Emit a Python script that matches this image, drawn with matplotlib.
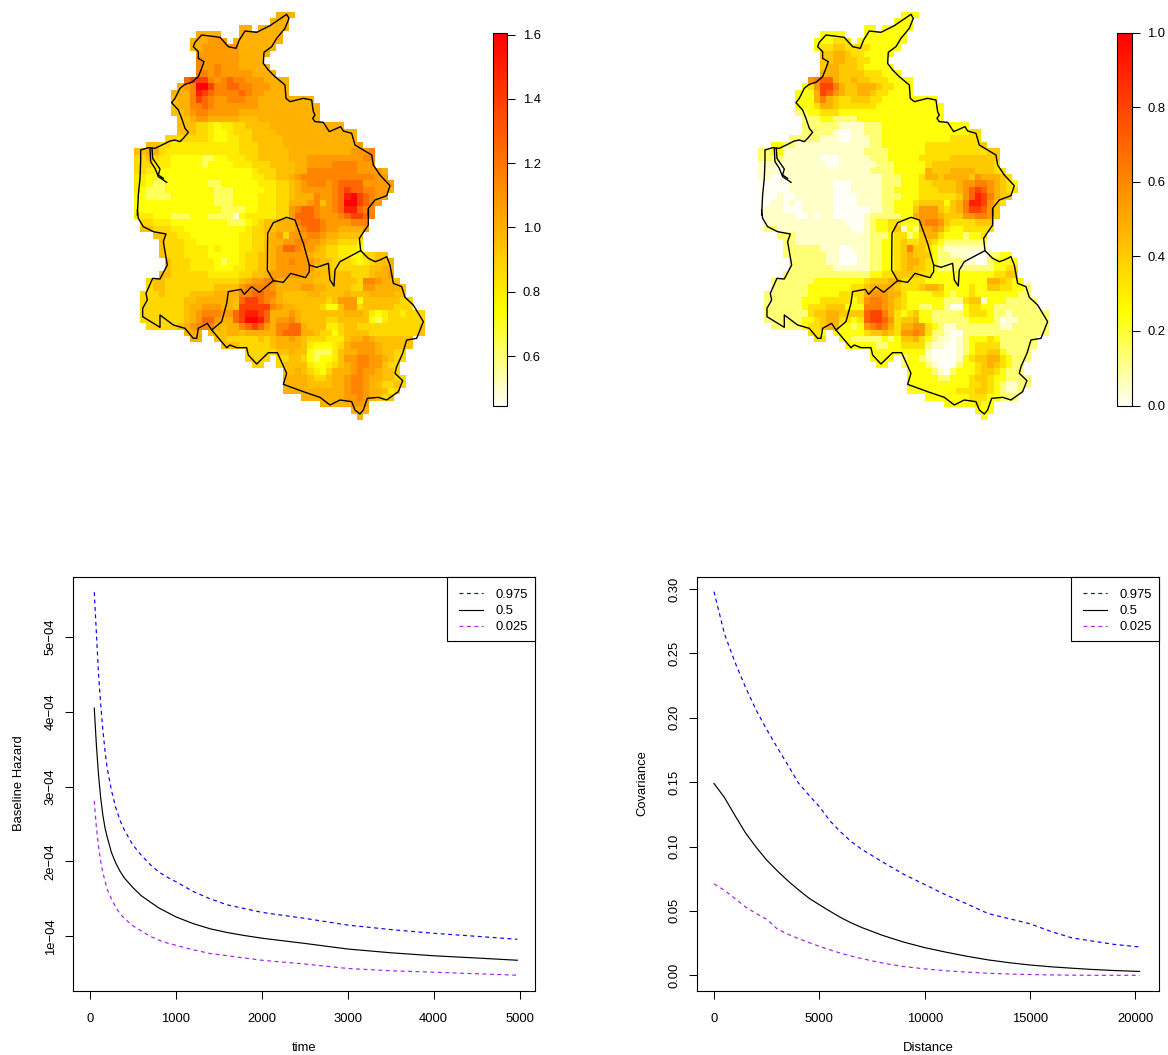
#!/usr/bin/env python3
# -*- coding: utf-8 -*-
import numpy as np
import matplotlib
matplotlib.use('Agg')
import matplotlib.pyplot as plt
from matplotlib.colors import LinearSegmentedColormap
from matplotlib.patches import Rectangle

plt.rcParams['font.family'] = ['Liberation Sans', 'DejaVu Sans']
plt.rcParams['font.size'] = 9.4

W, H = 1168, 1055

# grid rows as "first column:codes", blank = no cell
n_rows, n_cols = 63, 47
levels_a = [0.50, 0.63, 0.73, 0.80, 0.87, 0.95, 1.00, 1.08, 1.15, 1.25, 1.38, 1.50, 1.60]
levels_b = [0.00, 0.05, 0.13, 0.24, 0.34, 0.41, 0.48, 0.553, 0.625, 0.707, 0.80, 0.906, 1.00]

rows_a = [
 "23:666", "22:666", "17:66 66666", "10:6666   6666666", "9:666777 66666666",
 "9:66777777666666", "10:777777766666", "10:87777776666", "10:877877766666",
 "10:8878777776666", "8:9aaa8789887776666", "7:678cca889988777666",
 "6:6668ba9888898776666", "6:5668a987788877666666666", "6:566889877777776666666666",
 "6:556788777776666666666666", "7:55677666665556666666666",
 "7:555443233445555666666666666", "7:55544322344455556666666666666",
 "5:4444444322334455555666666666666", "2:55443333333333344455556666666666667",
 "0:556643333333333334445555566666666667778",
 "0:445433222221122333445555566677777777788",
 "0:444333222221222233344455556677778888777",
 "0:44332222222222222223444555668888888877776",
 "0:33222222222222222223344556788888888888877",
 "0:332112222222112222223334456788878999977777",
 "0:321112222222211122222334456777778" + "9a998" + "8776",
 "0:22111122222221112222333445666877" + "89bca9" + "877",
 "0:22222222222221112222333446667" + "8578" + "9cca9" + "87",
 "0:22222222222222111122333447899" + "8778" + "9bb98" + "8",
 "0:333222111222" + "11110233" + "33344" + "7999" + "8777" + "89aa9" + "8",
 "1:4433" + "3222222222" + "1112" + "3455" + "666" + "8999" + "87777" + "888",
 "1:5544" + "4332222222" + "2223" + "4455" + "666" + "7899" + "87766" + "667",
 "3:554" + "4332222" + "2222" + "3344" + "56" + "747" + "7788" + "7665" + "555",
 "4:54" + "4433222" + "2222" + "3344" + "56" + "677" + "8877" + "6554" + "443",
 "4:54" + "4433332" + "3222" + "3344" + "56" + "799" + "8776" + "5443" + "332",
 "4:54" + "4433332" + "2222" + "3445" + "56" + "777" + "7765" + "5443" + "322" + "4455",
 "5:5" + "4443333" + "2122" + "3445" + "56" + "778" + "7776" + "5544" + "432" + "34556",
 "5:5" + "4443333" + "2223" + "3445" + "56" + "777" + "7775" + "5544" + "444" + "45566",
 "4:55" + "4444443" + "3333" + "4455" + "67" + "777" + "7766" + "5555" + "544" + "45667",
 "2:455" + "4" + "4444444" + "4444" + "5677" + "88" + "666" + "6665" + "5555" + "554" + "887665",
 "2:455" + "4" + "4444444" + "5555" + "7888" + "87" + "666" + "6776" + "6555" + "544" + "7766665",
 "1:4445" + "4" + "4445555" + "6666" + "8899" + "88" + "655" + "5566" + "5555" + "655" + "5666655",
 "1:4444" + "4" + "4455666" + "6665" + "9aa9" + "87" + "655" + "5555" + "5457" + "772" + "55555544",
 "1:4444" + "4" + "4456677" + "7665" + "aaaa" + "a8" + "766" + "5555" + "4225" + "774" + "55555444",
 "1:4444" + "4" + "4456788" + "8779" + "abba" + "96" + "667" + "6555" + "5555" + "666" + "5323443444",
 "1:4444" + "4" + "4456799" + "7669" + "accb" + "96" + "778" + "6555" + "5445" + "555" + "5213444444",
 "2:4444" + "4567888" + "6566" + "89a9" + "76" + "889" + "9655" + "5334" + "554" + "4444444445",
 "8:666 " + "55566" + "5666" + "66" + "899" + "9665" + "4424" + "555" + "5444444445",
 "9:66  " + "5544" + "4445" + "45" + "667" + "6544" + "4333" + "566" + "76555555",
 "14:555" + "4444" + "45" + "666" + "6532" + "2234" + "677" + "77655555",
 "18:44444" + "556" + "5521" + "1135" + "667" + "7765544",
 "18:4444 " + "445" + "5421" + "2235" + "778" + "8776544",
 "19:44  " + "455" + "5532" + "2345" + "678" + "877544",
 "24:55" + "6543" + "2466" + "678" + "776554",
 "24:66" + "6654" + "4566" + "788" + "7665544",
 "24:66" + "6655" + "5566" + "788" + "7654454",
 "24:66" + "6666" + "6666" + "788" + "766534",
 "27:666" + "6666" + "778" + "76545",
 "30:66666777", "35:666", "36:6",
]

rows_b = [
 "23:333", "22:333", "17:33 33333", "10:3333   3333333", "9:333444 33333333",
 "9:34455444433333", "10:556654433333", "10:55665544333", "10:566555433333",
 "10:6665555444333", "8:78996556554443333", "7:347aa8655666544333",
 "6:3336a97655665443333", "6:33368654455544333333333", "6:333466544444433333333333",
 "6:223344433333333333333333", "7:22233222233333333333333",
 "7:222222111122233333333333333", "7:22222100" + "11222" + "3333333333333344",
 "5:22222" + "11" + "1" + "00" + "1" + "11" + "22" + "3333" + "333333344444",
 "2:33" + "22" + "11111111111" + "122" + "3333" + "333444444444" + "5",
 "0:2233" + "1" + "111111111111" + "222" + "23333" + "3344444444" + "4455",
 "0:2222" + "11" + "11110" + "00" + "1111" + "122" + "23333" + "344" + "444" + "555555" + "55",
 "0:1111" + "1111111" + "00" + "11111" + "1222" + "3333" + "3455" + "555555" + "554",
 "0:1110" + "11111111" + "1111112" + "222" + "3333" + "36" + "555666" + "65554" + "4",
 "0:1100" + "11111111" + "1111111" + "1222" + "333" + "46" + "6566665" + "766654",
 "0:0000" + "01111111" + "00011111" + "22233" + "3445" + "5556" + "77887" + "6543",
 "0:0000" + "01111111" + "00011111" + "22333" + "3444" + "5556" + "79a97" + "6544",
 "0:0001" + "00111111" + "00001111" + "22233" + "3444" + "4445" + "79ba8" + "655",
 "0:0011" + "01011111" + "00001111" + "22333" + "4555" + "5356" + "8bba7" + "54",
 "0:0111" + "00011111" + "00000011" + "22333" + "5777" + "5456" + "8aa97" + "5",
 "0:0111" + "11001011" + "00000122" + "22233" + "6777" + "6555" + "77887" + "5",
 "1:1111" + "1111111110" + "0012" + "3344" + "333" + "7887" + "54444" + "555",
 "1:2211" + "1111111111" + "0012" + "3345" + "132" + "6676" + "43344" + "444",
 "3:222" + "1111111" + "1111" + "1222" + "34" + "423" + "5664" + "3332" + "334",
 "4:22" + "1111111" + "1111" + "1223" + "34" + "544" + "5543" + "2222" + "222",
 "4:22" + "2222111" + "0011" + "1223" + "34" + "585" + "5432" + "1111" + "111",
 "4:22" + "2222211" + "0001" + "1223" + "34" + "565" + "5532" + "2111" + "000" + "2233",
 "5:2" + "2222211" + "0001" + "1223" + "34" + "566" + "5432" + "2221" + "100" + "23333",
 "5:2" + "2222221" + "1111" + "1223" + "34" + "565" + "5432" + "2222" + "222" + "23344",
 "4:22" + "2222222" + "2222" + "2334" + "45" + "555" + "4433" + "3333" + "333" + "34455",
 "2:222" + "2" + "2223333" + "3333" + "4555" + "66" + "444" + "4333" + "3333" + "333" + "665433",
 "2:222" + "2" + "2233333" + "3344" + "5666" + "65" + "444" + "5665" + "3333" + "433" + "5544332",
 "1:2222" + "2" + "2233333" + "4444" + "6777" + "66" + "433" + "3344" + "3233" + "433" + "3333322",
 "1:2222" + "2" + "2333444" + "4434" + "7887" + "65" + "433" + "3333" + "2224" + "551" + "33322222",
 "1:2222" + "2" + "2344455" + "5333" + "8887" + "65" + "433" + "2233" + "2003" + "443" + "32222222",
 "1:2222" + "2" + "2245566" + "5555" + "9aa8" + "64" + "345" + "3322" + "2223" + "444" + "3221222222",
 "1:2222" + "2" + "2334566" + "4434" + "9aa9" + "74" + "556" + "3322" + "2222" + "333" + "3201122222",
 "2:2222" + "2344566" + "3323" + "7898" + "64" + "667" + "7432" + "1122" + "222" + "2211222222",
 "8:443 " + "33333" + "4556" + "54" + "778" + "7422" + "1002" + "222" + "2222222222",
 "9:44  " + "3322" + "2223" + "23" + "556" + "4321" + "1012" + "333" + "43222222",
 "14:333" + "3322" + "33" + "444" + "4211" + "0012" + "344" + "44222222",
 "18:33333" + "333" + "3100" + "0012" + "344" + "5532222",
 "18:3333 " + "233" + "2100" + "0013" + "455" + "6643222",
 "19:33  " + "233" + "3210" + "0023" + "345" + "654322",
 "24:33" + "3321" + "0233" + "345" + "543222",
 "24:33" + "3332" + "2333" + "455" + "4332222",
 "24:33" + "3333" + "3333" + "445" + "4321122",
 "24:33" + "3333" + "3344" + "455" + "432112",
 "27:333" + "3333" + "444" + "33222",
 "30:33333433", "35:333", "36:3",
]

outer_north = [(22,630),(25,570),(30,520),(32,470),(32,435),(55,428),(75,430),(100,418),(120,408),(135,405),
 (150,410),(160,400),(175,382),(165,370),(155,340),(145,315),(125,293),(135,280),(150,250),(165,238),(185,232),
 (205,215),(215,190),(222,170),(205,160),(205,140),(190,125),(195,112),(215,90),(270,97),(295,125),(318,130),
 (328,105),(345,78),(380,82),(420,62),(470,28),(477,40),(465,70),(440,100),(425,125),(402,142),(400,175),
 (415,195),(435,215),(465,240),(468,280),(480,290),(520,280),(545,285),(550,320),(555,330),(548,340),(555,350),
 (580,352),(598,380),(632,365),(640,378),(665,385),(675,420),(725,450),(730,480),(750,510),(780,542),(770,572),
 (735,585),(715,610),(715,630)]
inlet_a = [(60,430),(62,470),(75,490),(85,515),(100,525),(110,532)]
inlet_b = [(66,430),(68,460),(90,492),(85,510),(100,520)]
outer_south = [(715,0),(715,45),(688,85),(692,122),(715,145),(735,155),(750,150),(770,140),(780,165),(790,220),
 (815,230),(825,262),(850,285),(880,335),(860,385),(830,390),(818,430),(800,470),(795,490),(818,512),(805,545),
 (770,570),(745,562),(712,565),(700,600),(690,612),(675,600),(665,575),(630,570),(600,585),(570,562),(520,545),
 (460,523),(470,490),(442,428),(415,428),(380,462),(355,435),(350,413),(320,413),(300,405),(290,413),(245,360),
 (232,340),(205,355),(200,385),(190,385),(165,355),(130,345),(90,315),(90,352),(38,320),(38,295),(52,270),
 (48,250),(68,205),(90,207),(112,165),(100,95),(108,72),(70,65),(40,50),(25,25),(22,0)]
inner_line = [(245,360),(275,335),(290,280),(295,245),(333,238),(343,253),(365,230),(388,247),(430,212),(460,217),
 (482,190),(527,203),(538,185),(538,165),(560,172),(595,160),(600,210),(612,228),(615,180),(630,155),(692,122)]
inner_loop = [(430,212),(412,180),(413,70),(430,38),(470,22),(495,30),(520,100),(538,165)]

# baseline hazard curves
time_x = [50, 75, 100, 125, 150, 175, 200, 250, 300, 350, 400, 500, 600, 700, 800, 900, 1000, 1200, 1400, 1600,
          1800, 2000, 2500, 3000, 3500, 4000, 4500, 4975]
haz_hi = [5.60, 5.05, 4.50, 4.10, 3.76, 3.48, 3.25, 2.95, 2.72, 2.55, 2.42, 2.22, 2.08, 1.96, 1.86, 1.79, 1.73,
          1.60, 1.50, 1.42, 1.37, 1.32, 1.24, 1.15, 1.09, 1.04, 1.00, 0.96]
haz_med = [4.05, 3.55, 3.15, 2.85, 2.62, 2.45, 2.33, 2.12, 1.98, 1.87, 1.78, 1.65, 1.54, 1.46, 1.38, 1.32, 1.26,
           1.17, 1.10, 1.05, 1.01, 0.975, 0.905, 0.83, 0.78, 0.74, 0.71, 0.68]
haz_lo = [2.81, 2.45, 2.20, 2.00, 1.85, 1.74, 1.63, 1.50, 1.39, 1.30, 1.24, 1.14, 1.07, 1.00, 0.95, 0.91, 0.88,
          0.82, 0.77, 0.74, 0.71, 0.68, 0.63, 0.57, 0.54, 0.52, 0.50, 0.48]

# covariance curves
dist_x = [0, 500, 1000, 1500, 2000, 2500, 3000, 3500, 4000, 4500, 5000, 5500, 6000, 6500, 7000, 8000, 9000, 10000,
          11000, 12000, 13000, 14000, 15000, 16000, 17000, 18000, 19000, 20200]
cov_hi = [.298, .265, .243, .2235, .206, .191, .177, .1635, .1495, .140, .131, .120, .1115, .104, .098, .088, .0785,
          .0705, .0625, .0555, .048, .044, .040, .034, .029, .0265, .024, .022]
cov_med = [.149, .138, .124, .1105, .0995, .0895, .0812, .0735, .0665, .0600, .0548, .0498, .0450, .0408, .0372, .031,
           .0258, .0215, .018, .0148, .0120, .0098, .008, .0066, .0055, .0045, .0037, .003]
cov_lo = [.071, .066, .0595, .053, .048, .0435, .036, .032, .0285, .0255, .0225, .0198, .0172, .0150, .013, .0095,
          .0068, .005, .0035, .0025, .0016, .001, .0006, .0003, .0001, 0, 0, 0]

legend_labels = ['0.975', '0.5', '0.025']


def grid_from(rows, levels):
    codes = '0123456789abc'
    z = np.full((n_rows, n_cols), np.nan)
    for i, row in enumerate(rows):
        start, vals = row.split(':')
        for j, ch in enumerate(vals):
            if ch != ' ':
                z[i, int(start) + j] = levels[codes.index(ch)]
    return np.ma.masked_invalid(z)


def axes_px(fig, x0, y0, x1, y1):
    return fig.add_axes([x0 / W, 1 - y1 / H, (x1 - x0) / W, (y1 - y0) / H])


heat = LinearSegmentedColormap.from_list('heat', [(0, '#FFFFF5'), (0.25, '#FFFF00'), (1, '#FF0000')], N=256)

fig = plt.figure(figsize=(W / 100, H / 100), dpi=100)

x_edges = 134 + 6.19 * np.arange(n_cols + 1)
y_edges = 12 + 6.48 * np.arange(n_rows + 1)


def draw_border(ax):
    for line, dy in [(outer_north, 5), (inlet_a, 5), (inlet_b, 5), (outer_south, 210), (inner_line, 210), (inner_loop, 210)]:
        xy = np.array(line, dtype=float)
        ax.plot(xy[:, 0] / 3 + 130, xy[:, 1] / 3 + dy, color='black', lw=1.0, solid_joinstyle='round', clip_on=False)


def draw_map(shift, rows, levels, vmin, vmax, bar_x0, ticks, ticklabels):
    ax = axes_px(fig, 134 + shift, 12, 425 + shift, 420)
    m = ax.pcolormesh(x_edges, y_edges, grid_from(rows, levels), cmap=heat, vmin=vmin, vmax=vmax,
                      antialiased=False, linewidth=0)
    draw_border(ax)
    ax.set_xlim(134, 425)
    ax.set_ylim(420, 12)
    ax.axis('off')
    cax = axes_px(fig, bar_x0, 32.7, bar_x0 + 14.6, 405.5)
    cb = fig.colorbar(m, cax=cax, ticks=ticks)
    cb.ax.set_yticklabels(ticklabels)
    cb.ax.tick_params(length=5.5, width=0.75, pad=5.8, labelsize=9.4)
    cb.outline.set_linewidth(0.8)


draw_map(0, rows_a, levels_a, 0.446, 1.606, 492.7,
         [0.6, 0.8, 1.0, 1.2, 1.4, 1.6], ['0.6', '0.8', '1.0', '1.2', '1.4', '1.6'])
draw_map(624.3, rows_b, levels_b, 0.0, 1.0, 1116.9,
         [0.0, 0.2, 0.4, 0.6, 0.8, 1.0], ['0.0', '0.2', '0.4', '0.6', '0.8', '1.0'])


def draw_curves(rect, series, xlim, ylim, xticks, xticklabels, yticks, yticklabels, xlabel, ylabel, ylabel_x):
    ax = axes_px(fig, *rect)
    styles = [('blue', (0, (3.3, 3))), ('black', '-'), ('#A020F0', (0, (3.3, 3)))]
    for (x, y), (col, ls), lab in zip(series, styles, legend_labels):
        ax.plot(x, y, color=col, ls=ls, lw=0.85, label=lab)
    ax.set_xlim(*xlim)
    ax.set_ylim(*ylim)
    ax.set_xticks(xticks)
    ax.set_xticklabels(xticklabels)
    ax.set_yticks(yticks)
    ax.set_yticklabels(yticklabels, rotation=90, va='center')
    ax.tick_params(axis='x', length=6, width=0.75, pad=9.8)
    ax.tick_params(axis='y', length=6, width=0.75, pad=5.4)
    for s in ax.spines.values():
        s.set_linewidth(0.8)
    w_px = rect[2] - rect[0]
    h_px = rect[3] - rect[1]
    ax.set_xlabel(xlabel, va='center')
    ax.xaxis.set_label_coords(0.5, -(1048 - rect[3]) / h_px)
    ax.set_ylabel(ylabel, va='center')
    ax.yaxis.set_label_coords((ylabel_x - rect[0]) / w_px, 0.502)
    # legend box is 88x64 px in the corner, entries inset
    ax.add_patch(Rectangle((1 - 88.3 / w_px, 1 - 64 / h_px), 88.3 / w_px, 64 / h_px, transform=ax.transAxes,
                           facecolor='white', edgecolor='black', lw=0.8, zorder=3, clip_on=False))
    leg = ax.legend(loc='upper left', bbox_to_anchor=(1 - 75.6 / w_px, 1 - 12 / h_px), frameon=False, borderaxespad=0,
                    handlelength=1.8, handletextpad=1.0, labelspacing=0.32, borderpad=0, fontsize=9.4)
    leg.set_zorder(5)


haz_scale = 1e-4
draw_curves((72.7, 576.7, 535, 990.7),
            [(time_x, np.array(haz_hi) * haz_scale), (time_x, np.array(haz_med) * haz_scale),
             (time_x, np.array(haz_lo) * haz_scale)],
            (-201, 5180), (0.273e-4, 5.806e-4),
            [0, 1000, 2000, 3000, 4000, 5000], ['0', '1000', '2000', '3000', '4000', '5000'],
            [1e-4, 2e-4, 3e-4, 4e-4, 5e-4], ['1e\u221204', '2e\u221204', '3e\u221204', '4e\u221204', '5e\u221204'],
            'time', 'Baseline Hazard', 19)
draw_curves((696.7, 576.7, 1159, 990.7),
            [(dist_x, cov_hi), (dist_x, cov_med), (dist_x, cov_lo)],
            (-821, 21120), (-0.01196, 0.3096),
            [0, 5000, 10000, 15000, 20000], ['0', '5000', '10000', '15000', '20000'],
            [0, .05, .10, .15, .20, .25, .30], ['0.00', '0.05', '0.10', '0.15', '0.20', '0.25', '0.30'],
            'Distance', 'Covariance', 642.7)

plt.savefig('out.png', dpi=100)
